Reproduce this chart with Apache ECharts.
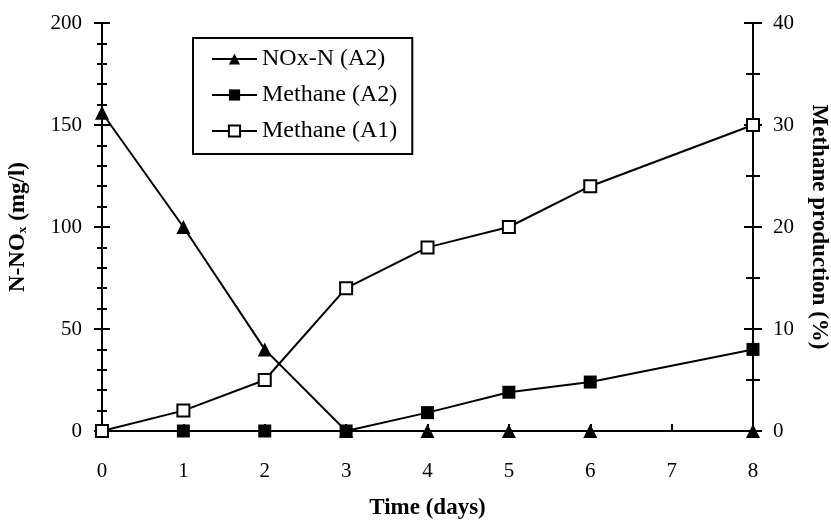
<!DOCTYPE html>
<html><head><meta charset="utf-8">
<script src="https://cdn.jsdelivr.net/npm/echarts@6/dist/echarts.min.js"></script>
<style>html,body{margin:0;padding:0;background:#fff}#c{width:831px;height:521px}</style>
</head><body><div id="c"></div>
<script>
const days = [0, 1, 2, 3, 4, 5, 6, 8];
const noxA2 = [156, 100, 40, 0, 0, 0, 0, 0];
const methaneA2 = [0, 0, 0, 0, 1.8, 3.8, 4.8, 8];
const methaneA1 = [0, 2, 5, 14, 18, 20, 24, 30];
const xTicks = [0, 1, 2, 3, 4, 5, 6, 7, 8];
const leftTicks = [0, 50, 100, 150, 200];
const rightTicks = [0, 10, 20, 30, 40];

const F = '"Liberation Serif","Times New Roman",serif';
const chart = echarts.init(document.getElementById('c'));
const pairs = a => days.map((d, i) => [d, a[i]]);
const lbl = {color: '#000', fontFamily: F, fontSize: 21};
const nameStyle = {color: '#000', fontFamily: F, fontSize: 23, fontWeight: 'bold'};
const yBase = (min, max, interval, split, pos, majorLen, minorLen, inside, show) => ({
  type: 'value', min, max, interval, position: pos,
  axisLine: {show: true, lineStyle: {color: '#000', width: 2}},
  axisTick: {show: true, inside, length: majorLen, lineStyle: {color: '#000', width: 2}},
  minorTick: {show: true, splitNumber: split, length: minorLen, lineStyle: {color: '#000', width: 2}},
  splitLine: {show: false},
  axisLabel: show ? Object.assign({margin: 20}, lbl) : {show: false}
});
const yL = yBase(0, 200, 50, 5, 'left', 8, 5, false, true);
yL.name = 'N-NOₓ (mg/l)';
yL.nameLocation = 'middle'; yL.nameGap = 72;
yL.nameTextStyle = nameStyle;
yL.axisLabel.formatter = v => leftTicks.includes(v) ? String(v) : '';
const yR = yBase(0, 40, 10, 2, 'right', 9, 7, false, true);
yR.name = 'Methane production (%)';
yR.nameLocation = 'middle'; yR.nameGap = 54; yR.nameRotate = -90;
yR.nameTextStyle = nameStyle;
yR.axisLabel.formatter = v => rightTicks.includes(v) ? String(v) : '';
const yL2 = yBase(0, 200, 50, 5, 'left', 8, 5, true, false);
const yR2 = yBase(0, 40, 10, 2, 'right', 9, 7, true, false);

const sym = (s, size, fill) => ({symbol: s, symbolSize: size, itemStyle: {color: fill, borderColor: '#000', borderWidth: fill === '#fff' ? 2 : 0}});
const common = {type: 'line', lineStyle: {color: '#000', width: 2}, animation: false, z: 3};

chart.setOption({
  animation: false,
  grid: {left: 102, right: 78, top: 23, bottom: 90, containLabel: false, outerBoundsMode: 'none'},
  legend: {
    orient: 'vertical', left: 193, top: 38,
    padding: [9, 15, 11, 18], itemGap: 12, itemWidth: 45, itemHeight: 14,
    borderColor: '#000', borderWidth: 2, backgroundColor: '#fff',
    textStyle: {color: '#000', fontFamily: F, fontSize: 24, lineHeight: 24},
    data: ['NOx-N (A2)', 'Methane (A2)', 'Methane (A1)']
  },
  xAxis: [{
    type: 'value', min: 0, max: 8, interval: 1,
    name: 'Time (days)', nameLocation: 'middle', nameGap: 66,
    nameTextStyle: nameStyle,
    axisLine: {lineStyle: {color: '#000', width: 2}},
    axisTick: {inside: true, length: 7, lineStyle: {color: '#000', width: 2}},
    splitLine: {show: false},
    axisLabel: Object.assign({margin: 30, formatter: v => xTicks.includes(v) ? String(v) : ''}, lbl)
  }],
  yAxis: [yL, yR, yL2, yR2],
  series: [
    Object.assign({name: 'NOx-N (A2)', yAxisIndex: 0, data: pairs(noxA2)}, common, sym('triangle', 14, '#000')),
    Object.assign({name: 'Methane (A2)', yAxisIndex: 1, data: pairs(methaneA2)}, common, sym('rect', 13, '#000')),
    Object.assign({name: 'Methane (A1)', yAxisIndex: 1, data: pairs(methaneA1)}, common, sym('rect', 12, '#fff'), {z: 4})
  ]
});
</script></body></html>
